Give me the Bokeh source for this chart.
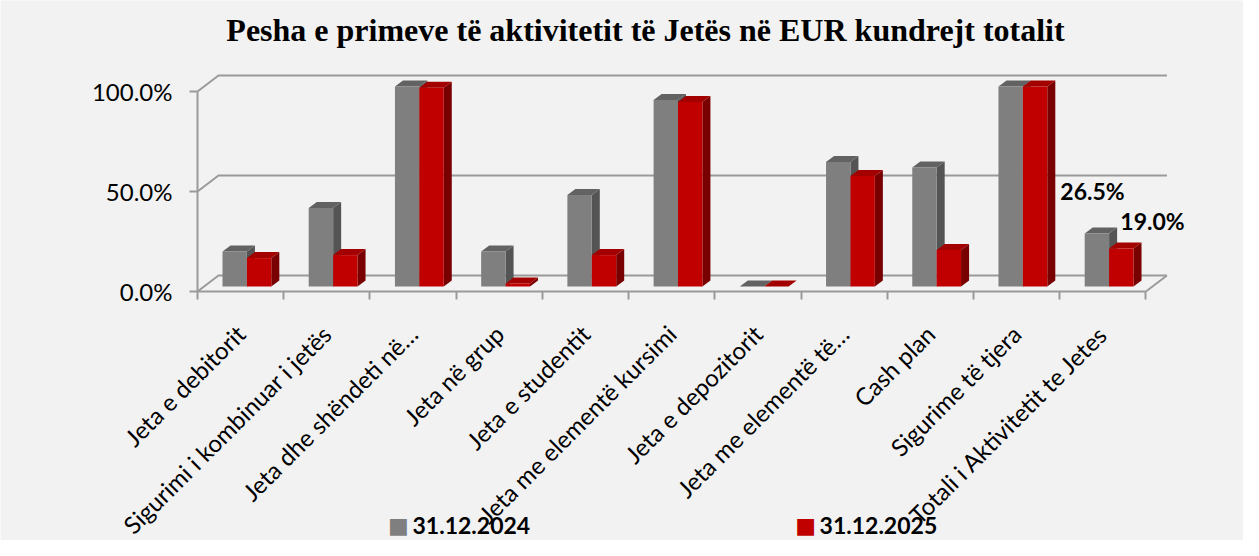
import math
import numpy as np
from bokeh.plotting import figure
from bokeh.models import Range1d, FixedTicker, Label
from bokeh.embed import file_html
from bokeh.resources import INLINE
from bokeh.core.properties import value

# ---------------- data ----------------
categories = [
    "Jeta e debitorit",
    "Sigurimi i kombinuar i jetës",
    "Jeta dhe shëndeti në…",
    "Jeta në grup",
    "Jeta e studentit",
    "Jeta me elementë kursimi",
    "Jeta e depozitorit",
    "Jeta me elementë të…",
    "Cash plan",
    "Sigurime të tjera",
    "Totali i Aktivitetit te Jetes",
]
values_2024 = [17.5, 39.2, 100.0, 17.5, 45.7, 93.2, 0.0, 62.3, 59.5, 100.0, 26.5]
values_2025 = [14.2, 15.7, 99.4, 1.5, 15.7, 92.3, 0.0, 55.3, 18.3, 100.0, 19.0]
series_names = ["31.12.2024", "31.12.2025"]
y_ticks = [0, 50, 100]
y_tick_labels = ["0.0%", "50.0%", "100.0%"]
total_labels = ["26.5%", "19.0%"]
title_text = "Pesha e primeve të aktivitetit të Jetës në EUR kundrejt totalit"

# ---------------- styling constants ----------------
n = len(categories)
DX, DY = 0.2436, 8.0        # depth of the 3D box (x units, % units)
BW = 0.283                   # bar width
GX0 = -0.21                  # gray bar left relative to category centre
BASE = 2.5                   # bar base (depth shift)
BDX, BDY = 0.093, 3.0        # bar depth
GRID = "#9a9a9a"
BG = "#f2f2f2"
colors_front = ["#7f7f7f", "#c00000"]
colors_top = ["#626262", "#a30000"]
colors_side = ["#545454", "#780000"]

# whole canvas is the frame; axes are pinned at fixed locations
p = figure(width=1243, height=540,
           x_range=Range1d(-1.7849, 12.6318), y_range=Range1d(-124.5, 145.5),
           output_backend="svg", toolbar_location=None,
           min_border=0, min_border_left=0, min_border_right=0,
           min_border_top=0, min_border_bottom=0,
           background_fill_color=BG, border_fill_color=BG,
           outline_line_color=None)
p.styles = {"box-shadow": "-3px -2px 0 0 #8c8c8c"}
p.title.visible = False
p.xgrid.visible = False
p.ygrid.visible = False

# y axis
yax = p.yaxis[0]
yax.fixed_location = 0.5
yax.ticker = FixedTicker(ticks=y_ticks)
yax.major_label_overrides = dict(zip(y_ticks, y_tick_labels))
yax.bounds = (0, 100)
yax.axis_line_color = GRID
yax.axis_line_width = 2
yax.major_tick_line_color = GRID
yax.major_tick_line_width = 2
yax.major_tick_out = 8
yax.major_tick_in = 0
yax.minor_tick_line_color = None
yax.major_label_standoff = 17
yax.major_label_text_font = "Lato"
yax.major_label_text_font_size = "24px"
yax.major_label_text_color = "#000000"

# x axis
centers = list(range(1, n + 1))
xax = p.xaxis[0]
xax.fixed_location = 0
xax.ticker = FixedTicker(ticks=centers, minor_ticks=[c - 0.5 for c in centers] + [n + 0.5])
xax.major_label_overrides = dict(zip(centers, categories))
xax.major_label_orientation = math.pi / 4
xax.bounds = (0.5, n + 0.5)
xax.axis_line_color = GRID
xax.axis_line_width = 2
xax.major_tick_line_color = None
xax.minor_tick_line_color = GRID
xax.minor_tick_line_width = 2
xax.minor_tick_out = 8
xax.minor_tick_in = 0
xax.major_label_standoff = 30
xax.major_label_text_font = "Lato"
xax.major_label_text_font_size = "24px"
xax.major_label_text_color = "#000000"

# 3D box: back wall gridlines and diagonals
x_left, x_right = 0.5, n + 0.5
xs, ys = [], []
for t in y_ticks:
    xs.append([x_left, x_left + DX, x_right + DX])
    ys.append([t, t + DY, t + DY])
xs.append([x_right, x_right + DX])
ys.append([0, DY])
p.multi_line(xs, ys, line_color=GRID, line_width=2)

# bars
for si, vals in enumerate([values_2024, values_2025]):
    x0 = np.array(centers, dtype=float) + GX0 + si * BW
    x1 = x0 + BW
    v = np.array(vals, dtype=float)
    top = v + BASE
    side_xs = [[a, a + BDX, a + BDX, a] for a in x1]
    side_ys = [[BASE, BASE + BDY, t + BDY, t] for t in top]
    top_xs = [[a, b, b + BDX, a + BDX] for a, b in zip(x0, x1)]
    top_ys = [[t, t, t + BDY, t + BDY] for t in top]
    p.patches(side_xs, side_ys, fill_color=colors_side[si], line_color=None)
    p.patches(top_xs, top_ys, fill_color=colors_top[si], line_color=None)
    p.quad(left=x0, right=x1, bottom=BASE, top=top,
           fill_color=colors_front[si], line_color=None)

# data labels for the total category
last = centers[-1]
p.text(x=[last - 0.12, last + 0.576],
       y=[values_2024[-1] + 24.0, values_2025[-1] + 16.5],
       text=total_labels, text_font=value("Lato"), text_font_style="bold",
       text_font_size="23px", text_align="center", text_baseline="middle",
       text_color="#000000")

# title
p.add_layout(Label(x=5.696, y=131, text=title_text,
                   text_font="Liberation Serif", text_font_style="bold",
                   text_font_size="32px", text_align="center",
                   text_baseline="middle", text_color="#000000"))

# legend
leg_sq_x = [2.831, 7.552]
leg_tx_x = [2.994, 7.715]
for si in range(2):
    p.add_layout(Label(x=leg_sq_x[si], y=-117, text="■",
                       text_font="DejaVu Sans", text_font_size="22px",
                       text_align="center", text_baseline="middle",
                       text_color=colors_front[si]))
    p.add_layout(Label(x=leg_tx_x[si], y=-117, text=series_names[si],
                       text_font="Lato", text_font_style="bold",
                       text_font_size="23px", text_align="left",
                       text_baseline="middle", text_color="#000000"))

open("out.html", "w").write(file_html(p, INLINE))
